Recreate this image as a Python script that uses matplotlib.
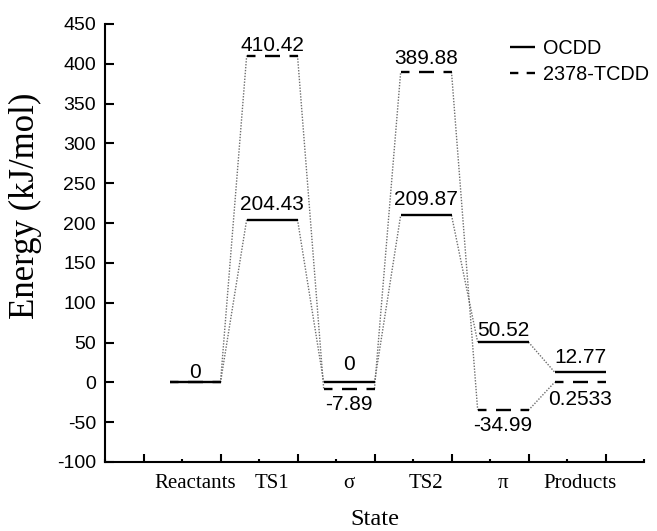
import matplotlib
matplotlib.use("Agg")
import matplotlib.pyplot as plt
from matplotlib.lines import Line2D

# ---- data ----
states = ["Reactants", "TS1", "\u03c3", "TS2", "\u03c0", "Products"]
ocdd = [0, 204.43, 0, 209.87, 50.52, 12.77]
tcdd = [0, 410.42, -7.89, 389.88, -34.99, 0.2533]
series_names = ["OCDD", "2378-TCDD"]
y_ticks = [-100, -50, 0, 50, 100, 150, 200, 250, 300, 350, 400, 450]

# ---- style ----
plt.rcParams["axes.unicode_minus"] = False
plt.rcParams["lines.scale_dashes"] = False
SANS = "Liberation Sans"
SERIF = "Liberation Serif"
PX = 0.72  # points per pixel at 100 dpi

fig = plt.figure(figsize=(6.57, 5.31), dpi=100)
ax = fig.add_axes([105 / 657, 1 - 462 / 531, 539 / 657, 438 / 531])

xs = list(range(1, len(states) + 1))
half = 0.33
dash_style = (6.5 * PX, (15 * PX, 9.5 * PX))
dot_style = (0, (1.0, 1.1))
dot_color = "#6e6e6e"

# dotted connectors between neighbouring levels
for vals in (ocdd, tcdd):
    for i in range(len(xs) - 1):
        ax.plot([xs[i] + half, xs[i + 1] - half], [vals[i], vals[i + 1]],
                color=dot_color, lw=1.0, linestyle=dot_style, zorder=1)

# energy levels
for x, v in zip(xs, tcdd):
    ax.plot([x - half, x + half], [v, v], color="black", lw=1.7,
            linestyle=dash_style, dash_capstyle="butt", zorder=2)
for x, v in zip(xs, ocdd):
    ax.plot([x - half, x + half], [v, v], color="black", lw=1.7,
            solid_capstyle="butt", zorder=3)

# value labels (gaps in pixels between level and text)
gap_above_ocdd = [4, 10, 12, 10, 6, 9]
gap_above_tcdd = [4, 5, 0, 7.7, 0, 0]
gap_below_tcdd = [0, 0, 6.5, 0, 6, 8]

def fmt(v):
    return f"{v:g}"

for i, x in enumerate(xs):
    a, b = ocdd[i], tcdd[i]
    ax.annotate(fmt(a), (x, a), xytext=(0, gap_above_ocdd[i] * PX),
                textcoords="offset points", ha="center", va="baseline",
                fontsize=15, family=SANS)
    if b == a:
        continue
    if b > a:
        ax.annotate(fmt(b), (x, b), xytext=(0, gap_above_tcdd[i] * PX),
                    textcoords="offset points", ha="center", va="baseline",
                    fontsize=15, family=SANS)
    else:
        ax.annotate(fmt(b), (x, b), xytext=(0, -gap_below_tcdd[i] * PX),
                    textcoords="offset points", ha="center", va="top",
                    fontsize=15, family=SANS)

# axes
ax.set_xlim(-0.17, 6.83)
ax.set_ylim(-100, 450)
ax.spines["top"].set_visible(False)
ax.spines["right"].set_visible(False)
ax.spines["left"].set_linewidth(1.5)
ax.spines["bottom"].set_linewidth(1.5)

ax.set_yticks(y_ticks)
ax.set_yticklabels([str(t) for t in y_ticks], family=SANS, fontsize=14)
ax.tick_params(axis="y", direction="in", length=6.5, width=1.5, pad=6.5)

ax.set_xticks([x - 1 + 0.33 for x in range(1, 8)])
ax.set_xticklabels([])
ax.set_xticks([x - 1 - 0.17 for x in range(1, 9)], minor=True)
ax.tick_params(axis="x", which="major", direction="in", length=5.5, width=1.5)
ax.tick_params(axis="x", which="minor", direction="in", length=2.5, width=1.5)

sec = ax.secondary_xaxis("bottom")
sec.set_xticks(xs)
sec.set_xticklabels(states, family=SERIF, fontsize=15)
sec.tick_params(length=0, pad=8.5)
sec.spines["bottom"].set_visible(False)

ax.set_ylabel("Energy (kJ/mol)", family=SERIF, fontsize=25)
ax.yaxis.set_label_coords(-0.117, 0.584)
ax.set_xlabel("State", family=SERIF, fontsize=17.5)
ax.xaxis.set_label_coords(0.501, -0.108)

# legend
handles = [
    Line2D([], [], color="black", lw=1.7, solid_capstyle="butt"),
    Line2D([], [], color="black", lw=1.7, linestyle=(0, (6, 6)), dash_capstyle="butt"),
]
leg = ax.legend(handles, series_names, loc="upper left",
                bbox_to_anchor=(510 / 657, 1 - 39 / 531), bbox_transform=fig.transFigure,
                frameon=False, prop={"family": SANS, "size": 14.3},
                handlelength=25 / 19.8, handletextpad=8 / 19.8,
                borderpad=0, borderaxespad=0, labelspacing=0.34)

fig.savefig("out.png", dpi=100)
